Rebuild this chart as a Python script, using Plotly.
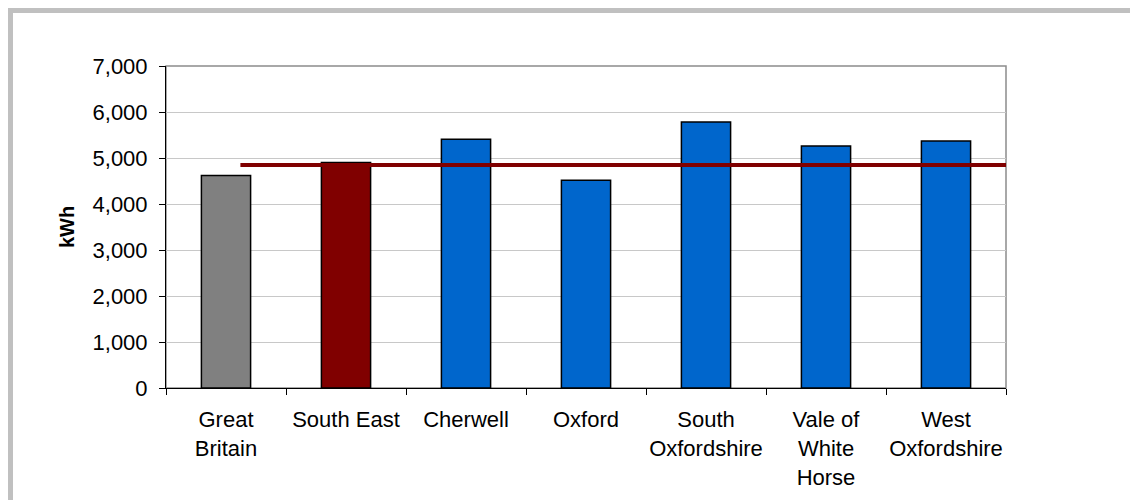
import plotly.graph_objects as go

categories = ["Great<br>Britain", "South East", "Cherwell", "Oxford",
              "South<br>Oxfordshire", "Vale of<br>White<br>Horse", "West<br>Oxfordshire"]
values = [4620, 4900, 5405, 4515, 5785, 5260, 5370]
bar_colors = ["#808080", "#800000", "#0066CC", "#0066CC", "#0066CC", "#0066CC", "#0066CC"]

# reference line (South East average), in category-position units on an overlay axis
line_x = [0.12, 6.5]
line_y = [4850, 4850]

y_ticks = [0, 1000, 2000, 3000, 4000, 5000, 6000, 7000]

FONT = "Liberation Sans, Arial, sans-serif"

fig = go.Figure()
fig.add_trace(go.Bar(
    x=categories, y=values, width=0.41,
    marker=dict(color=bar_colors, line=dict(color="#000000", width=1.5)),
    showlegend=False, hoverinfo="x+y",
))
fig.add_trace(go.Scatter(
    x=line_x, y=line_y, xaxis="x2", mode="lines",
    line=dict(color="#800000", width=4), showlegend=False,
))

# page body has an 8px margin; compensate so the plot area lands at 166..1006 x 66..388
OFF = 8
L, T = 166 - OFF, 66 - OFF
PW, PH = 840, 322
R = 1138 - L - PW
B = 500 - T - PH

def px_x(p):
    return (p - OFF - L) / PW

def px_y(p):
    return (T + PH - (p - OFF)) / PH

fig.update_layout(
    width=1138, height=500,
    margin=dict(l=L, r=R, t=T, b=B, pad=0, autoexpand=False),
    paper_bgcolor="white", plot_bgcolor="white",
    font=dict(family=FONT, size=22, color="#000000"),
    xaxis=dict(
        type="category", showline=True, linecolor="#000000", linewidth=1,
        ticks="outside", ticklen=6, tickcolor="#000000", tickson="boundaries",
        showgrid=False, tickfont=dict(size=22), range=[-0.5, 6.5],
        tickangle=0, automargin=False, ticklabelstandoff=12,
    ),
    xaxis2=dict(overlaying="x", range=[-0.5, 6.5], visible=False, type="linear"),
    yaxis=dict(
        range=[0, 7000], tickvals=y_ticks, tickformat=",d",
        showline=True, linecolor="#000000", linewidth=1,
        ticks="outside", ticklen=6, tickcolor="#000000",
        showgrid=True, gridcolor="#c8c8c8", gridwidth=1, zeroline=False,
        tickfont=dict(size=22), automargin=False, ticklabelstandoff=7,
        title=dict(text="<b>kWh</b>", font=dict(size=20), standoff=12),
    ),
    shapes=[
        dict(type="rect", xref="paper", yref="paper", x0=0, x1=1, y0=0, y1=1,
             line=dict(color="#8c8c8c", width=1.5), layer="below"),
        dict(type="rect", xref="paper", yref="paper",
             x0=px_x(10), x1=px_x(1200), y0=px_y(560), y1=px_y(10),
             line=dict(color="#c0c0c0", width=6), layer="below"),
    ],
)

fig.write_html("out.html")
